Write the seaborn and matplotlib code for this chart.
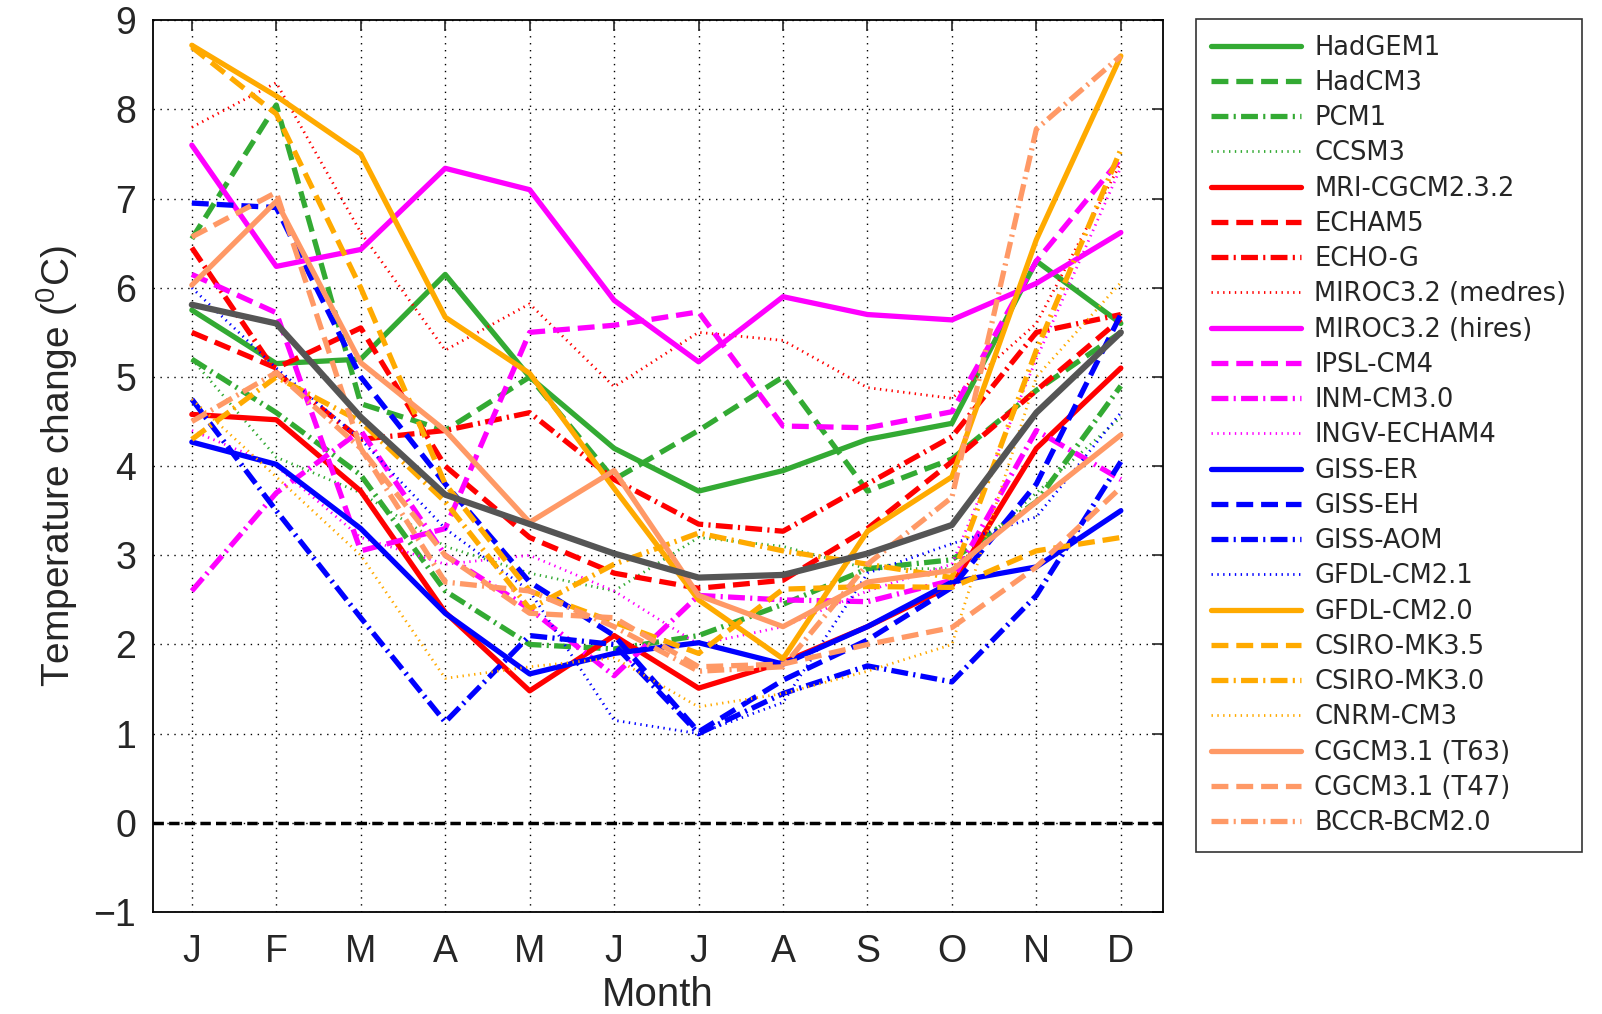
# Monthly temperature change, 22 GCMs + ensemble mean
import numpy as np
import pandas as pd
import matplotlib
matplotlib.use("Agg")
import matplotlib.pyplot as plt
import seaborn as sns

sns.set_style("white")
plt.rcParams["font.family"] = ["Liberation Sans", "DejaVu Sans"]
plt.rcParams["mathtext.fontset"] = "custom"
plt.rcParams["mathtext.rm"] = "Liberation Sans"

# ---------------- data ----------------
months = ["J", "F", "M", "A", "M", "J", "J", "A", "S", "O", "N", "D"]

hadgem1   = [5.75, 5.15, 5.2, 6.15, 5.0, 4.2, 3.72, 3.95, 4.3, 4.48, 6.3, 5.6]
hadcm3    = [6.55, 8.05, 4.7, 4.4, 5.0, 3.85, 4.4, 5.0, 3.72, 4.08, 4.85, 5.5]
pcm1      = [5.2, 4.6, 3.9, 2.6, 2.0, 1.95, 2.1, 2.45, 2.85, 2.95, 3.6, 4.9]
ccsm3     = [5.2, 4.1, 3.7, 3.1, 2.8, 2.6, 3.2, 3.1, 2.85, 2.85, 3.7, 4.55]
mri       = [4.58, 4.52, 3.72, 2.36, 1.48, 2.1, 1.51, 1.8, 2.2, 2.66, 4.2, 5.1]
echam5    = [5.5, 5.1, 5.55, 4.0, 3.2, 2.8, 2.63, 2.72, 3.3, 4.05, 4.85, 5.65]
echog     = [6.45, 5.05, 4.3, 4.4, 4.6, 3.85, 3.35, 3.27, 3.8, 4.33, 5.5, 5.7]
miroc_med = [7.8, 8.3, 6.62, 5.3, 5.82, 4.89, 5.5, 5.41, 4.88, 4.76, 5.6, 7.4]
miroc_hi  = [7.6, 6.24, 6.43, 7.34, 7.1, 5.86, 5.17, 5.9, 5.7, 5.64, 6.05, 6.62]
ipsl      = [6.15, 5.72, 3.05, 3.3, 5.5, 5.58, 5.73, 4.45, 4.43, 4.61, 6.3, 7.45]
inm       = [2.6, 3.7, 4.4, 3.0, 2.4, 1.65, 2.55, 2.5, 2.48, 2.72, 4.4, 3.85]
ingv      = [4.4, 4.0, 3.2, 2.9, 3.0, 2.6, 2.0, 2.2, 2.6, 2.9, 5.2, 7.35]
giss_er   = [4.27, 4.02, 3.3, 2.35, 1.67, 1.9, 2.02, 1.78, 2.2, 2.7, 2.87, 3.5]
giss_eh   = [6.95, 6.9, 5.0, 3.8, 2.7, 2.1, 1.02, 1.6, 2.05, 2.64, 3.8, 5.7]
giss_aom  = [4.75, 3.5, 2.3, 1.13, 2.1, 2.0, 1.0, 1.45, 1.76, 1.58, 2.55, 4.05]
gfdl21    = [6.0, 5.1, 4.3, 3.3, 2.6, 1.15, 1.0, 1.35, 2.8, 3.13, 3.43, 4.6]
gfdl20    = [8.72, 8.15, 7.5, 5.67, 5.04, 3.75, 2.5, 1.84, 3.27, 3.88, 6.54, 8.6]
csiro35   = [8.7, 7.95, 6.0, 3.8, 2.6, 2.25, 1.9, 2.62, 2.65, 2.64, 3.05, 3.2]
csiro30   = [4.3, 5.0, 4.5, 3.6, 2.4, 2.9, 3.25, 3.05, 2.9, 2.75, 5.3, 7.55]
cnrm      = [4.75, 3.88, 3.0, 1.62, 1.75, 1.85, 1.3, 1.45, 1.7, 2.0, 5.0, 6.06]
cgcm63    = [6.03, 6.97, 5.16, 4.4, 3.37, 3.95, 2.55, 2.2, 2.7, 2.83, 3.6, 4.35]
cgcm47    = [6.57, 7.07, 4.2, 3.0, 2.35, 2.3, 1.75, 1.78, 2.0, 2.19, 2.87, 3.76]
bccr      = [4.5, 5.05, 4.2, 2.7, 2.6, 2.2, 1.7, 1.75, 2.9, 3.65, 7.78, 8.6]
ens_mean  = [5.81, 5.6, 4.55, 3.68, 3.35, 3.02, 2.75, 2.78, 3.02, 3.34, 4.6, 5.5]

model_names = ["HadGEM1", "HadCM3", "PCM1", "CCSM3",
               "MRI-CGCM2.3.2", "ECHAM5", "ECHO-G", "MIROC3.2 (medres)",
               "MIROC3.2 (hires)", "IPSL-CM4", "INM-CM3.0", "INGV-ECHAM4",
               "GISS-ER", "GISS-EH", "GISS-AOM", "GFDL-CM2.1",
               "GFDL-CM2.0", "CSIRO-MK3.5", "CSIRO-MK3.0", "CNRM-CM3",
               "CGCM3.1 (T63)", "CGCM3.1 (T47)", "BCCR-BCM2.0"]
model_values = [hadgem1, hadcm3, pcm1, ccsm3,
                mri, echam5, echog, miroc_med,
                miroc_hi, ipsl, inm, ingv,
                giss_er, giss_eh, giss_aom, gfdl21,
                gfdl20, csiro35, csiro30, cnrm,
                cgcm63, cgcm47, bccr]

# colour per group of four (last group has three), style cycles
group_colors = ["#33aa33", "#ff0000", "#ff00ff", "#0000ff", "#ffaa00", "#ff9966"]
styles = [("-", 3.8),
          ((0, (3.2, 1.5)), 3.8),
          ((0, (3.2, 1.0, 0.4, 1.0)), 3.8),
          ((0, (0.5, 1.6)), 2.0)]

df = pd.DataFrame({"month": np.arange(1, 13)})
for name, vals in zip(model_names, model_values):
    df[name] = vals
df["mean"] = ens_mean

# ---------------- plot ----------------
fig = plt.figure(figsize=(16.02, 10.14), dpi=100)
ax = fig.add_axes([0.0955, 0.1006, 0.6305, 0.8794])

for i, name in enumerate(model_names):
    ls, lw = styles[i % 4]
    sns.lineplot(data=df, x="month", y=name, ax=ax, color=group_colors[i // 4],
                 linestyle=ls, linewidth=lw, label=name)

sns.lineplot(data=df, x="month", y="mean", ax=ax, color="#555555",
             linewidth=4.5, label="_mean")
ax.axhline(0, color="black", linestyle=(0, (3, 1.5)), linewidth=2.5)

ax.set_xlim(0.54, 12.5)
ax.set_ylim(-1, 9)
ax.set_xticks(np.arange(1, 13))
ax.set_xticklabels(months)
ax.set_yticks(np.arange(-1, 10))
ax.tick_params(direction="in", top=True, right=True, length=8, width=1.2,
               labelsize=27, pad=12)
ax.tick_params(axis="x", pad=16)
ax.grid(True, color="black", linestyle=(0, (1, 4)), linewidth=1.0)
for sp in ax.spines.values():
    sp.set_color("black")
    sp.set_linewidth(1.3)

ax.set_xlabel("Month", fontsize=29, labelpad=4)
ax.set_ylabel(r"Temperature change ($^{0}$C)", fontsize=28, labelpad=10)

ax.get_legend().remove()
handles, labels = ax.get_legend_handles_labels()
keep = [(h, l) for h, l in zip(handles, labels) if not l.startswith("_")]
leg = fig.legend([k[0] for k in keep], [k[1] for k in keep],
                 loc="upper left", bbox_to_anchor=(0.7466, 0.981),
                 frameon=True, fancybox=False, edgecolor="black",
                 prop={"family": "DejaVu Sans", "size": 18.5},
                 handlelength=3.5, handletextpad=0.5,
                 labelspacing=0.36, borderpad=0.6, borderaxespad=0)
leg.get_frame().set_linewidth(1.2)

fig.savefig("out.png", dpi=100)
